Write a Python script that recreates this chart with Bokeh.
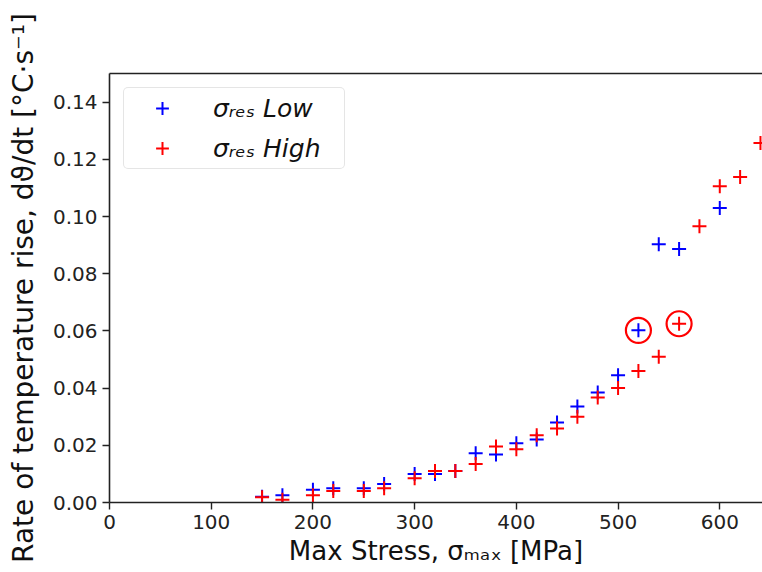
from bokeh.plotting import figure
from bokeh.models import (ColumnDataSource, Range1d, SingleIntervalTicker, NumeralTickFormatter,
                          LinearAxis, FixedTicker, Legend, LegendItem)
from bokeh.embed import file_html
from bokeh.resources import INLINE

# Data
stress_low = [150, 170, 200, 220, 250, 270, 300, 320, 340, 360, 380, 400, 420, 440, 460, 480, 500, 520, 540, 560, 600]
rate_low = [0.0020, 0.0025, 0.0045, 0.0050, 0.0050, 0.0065, 0.0100, 0.0100, 0.0110, 0.0172, 0.0168, 0.0207, 0.0220,
            0.0280, 0.0336, 0.0385, 0.0445, 0.0602, 0.0903, 0.0886, 0.1030]
stress_high = [150, 170, 200, 220, 250, 270, 300, 320, 340, 360, 380, 400, 420, 440, 460, 480, 500, 520, 540, 560,
               580, 600, 620, 640]
rate_high = [0.0018, 0.0010, 0.0025, 0.0040, 0.0040, 0.0050, 0.0085, 0.0110, 0.0110, 0.0135, 0.0196, 0.0186, 0.0235,
             0.0259, 0.0300, 0.0367, 0.0400, 0.0460, 0.0510, 0.0625, 0.0966, 0.1106, 0.1138, 0.1257]
# highlighted (circled) points
highlight_x = [520, 560]
highlight_y = [0.0602, 0.0625]

FONT = "DejaVu Sans"

p = figure(width=762, height=572, output_backend="svg", toolbar_location=None,
           x_range=Range1d(0, 642), y_range=Range1d(0, 0.150),
           min_border_left=109, min_border_top=73, min_border_bottom=70, min_border_right=0)
p.outline_line_color = None
p.xgrid.visible = False
p.ygrid.visible = False
p.background_fill_color = "white"
p.border_fill_color = "white"

src_low = ColumnDataSource(dict(x=stress_low, y=rate_low))
src_high = ColumnDataSource(dict(x=stress_high, y=rate_high))
r_low = p.scatter("x", "y", source=src_low, marker="cross", size=14, line_color="#0000ff", line_width=2)
r_high = p.scatter("x", "y", source=src_high, marker="cross", size=14, line_color="#ff0000", line_width=2)
p.scatter(highlight_x, highlight_y, marker="circle", size=25, fill_color=None, line_color="#ff0000", line_width=2.2)

for ax in (p.xaxis[0], p.yaxis[0]):
    ax.axis_line_color = "#222222"
    ax.axis_line_width = 1.6
    ax.major_tick_line_color = "#222222"
    ax.major_tick_line_width = 1.4
    ax.major_tick_out = 7
    ax.major_tick_in = 0
    ax.minor_tick_line_color = None
    ax.major_label_text_font = FONT
    ax.major_label_text_font_size = "20px"
    ax.major_label_text_color = "#222222"
    ax.axis_label_text_font = FONT
    ax.axis_label_text_font_style = "normal"
    ax.axis_label_text_color = "#111111"
    ax.major_label_standoff = 5

p.xaxis[0].ticker = SingleIntervalTicker(interval=100)
p.yaxis[0].ticker = SingleIntervalTicker(interval=0.02)
p.yaxis[0].formatter = NumeralTickFormatter(format="0.00")
p.xaxis[0].axis_label = "Max Stress, σₘₐₓ [MPa]"
p.yaxis[0].axis_label = "Rate of temperature rise, dϑ/dt [°C·s⁻¹]"
p.xaxis[0].axis_label_text_font_size = "26px"
p.yaxis[0].axis_label_text_font_size = "28px"
p.xaxis[0].axis_label_standoff = 4
p.yaxis[0].axis_label_standoff = 10

top = LinearAxis(ticker=FixedTicker(ticks=[]), axis_line_color="#222222", axis_line_width=1.6,
                 major_tick_line_color=None, minor_tick_line_color=None, major_label_text_font_size="0px")
p.add_layout(top, "above")

legend = Legend(items=[LegendItem(label="σᵣₑₛ Low", renderers=[r_low]),
                       LegendItem(label="σᵣₑₛ High", renderers=[r_high])],
                location="top_left")
legend.margin = 14
legend.padding = 4
legend.spacing = 8
legend.label_height = 32
legend.glyph_height = 32
legend.glyph_width = 68
legend.label_standoff = 17
legend.label_width = 127
legend.label_text_font = FONT
legend.label_text_font_size = "25px"
legend.label_text_font_style = "italic"
legend.label_text_color = "#111111"
legend.border_line_color = "#cccccc"
legend.border_line_width = 1.5
legend.border_radius = 5
legend.background_fill_alpha = 0.9
p.add_layout(legend)

open("out.html", "w").write(file_html(p, INLINE))
